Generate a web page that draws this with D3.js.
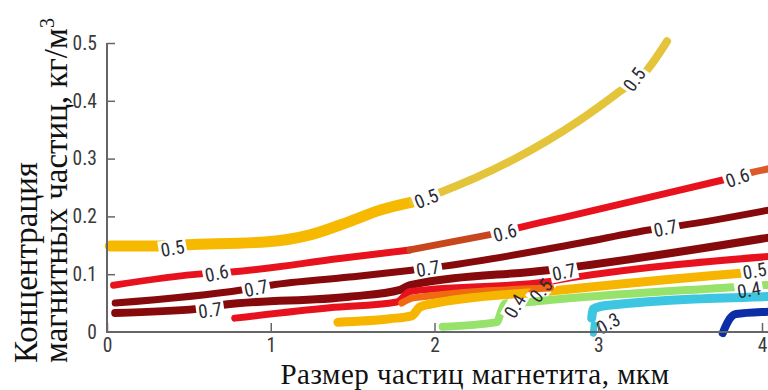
<!DOCTYPE html>
<html>
<head>
<meta charset="utf-8">
<script src="https://cdn.jsdelivr.net/npm/d3@7"></script>
<style>
  body { margin: 0; background: #fff; }
  svg { display: block; }
</style>
</head>
<body>
<svg id="chart" width="768" height="390"></svg>
<script>
// ---- axis values ----
const xTicks = [0, 1, 2, 3, 4];
const xTickLabels = ["0", "1", "2", "3", "4"];
const yTicks = [0, 0.1, 0.2, 0.3, 0.4, 0.5];
const yTickLabels = ["0", "0.1", "0.2", "0.3", "0.4", "0.5"];

// ---- contour lines: [particle size µm, concentration kg/m³] ----
const c05upperA = [[0.02,0.149],[0.32,0.149],[0.49,0.151],[0.98,0.156],[1.24,0.168],[1.48,0.191],[1.67,0.211],[1.87,0.225]];
const c05upperB = [[1.87,0.225],[2.03,0.241],[2.48,0.298],[2.89,0.367],[3.13,0.416],[3.30,0.454],[3.42,0.503]];
const c06a = [[0.04,0.081],[0.59,0.101],[0.76,0.104],[1.42,0.127],[1.85,0.142]];
const c06b = [[1.85,0.142],[2.33,0.168],[2.42,0.173]];
const c06c = [[2.42,0.173],[2.51,0.180],[2.83,0.201],[3.76,0.263],[3.85,0.269]];
const c06d = [[3.85,0.269],[3.94,0.276],[4.10,0.286]];
const c07upper = [[0.05,0.050],[0.83,0.073],[1.00,0.081],[1.48,0.095],[1.86,0.107],[2.06,0.114],[2.89,0.154],[3.32,0.177],[3.50,0.184],[4.10,0.214]];
const c07lower = [[0.05,0.033],[0.55,0.040],[0.71,0.047],[1.48,0.061],[1.79,0.073],[1.85,0.081],[2.69,0.107],[2.89,0.114],[4.10,0.166]];
const c06lower = [[0.78,0.024],[1.36,0.042],[1.77,0.052],[1.85,0.070],[2.69,0.087],[2.84,0.094],[4.10,0.132]];
const c055 = [[1.80,0.050],[1.87,0.059],[2.71,0.076]];
const c05lower = [[1.41,0.017],[1.73,0.023],[1.86,0.028],[1.91,0.043],[1.97,0.048],[2.71,0.071],[3.97,0.104],[4.12,0.107]];
const c04 = [[2.05,0.009],[2.38,0.017],[2.41,0.038],[2.43,0.049],[2.58,0.052],[2.77,0.057],[3.85,0.078],[4.12,0.083]];
const c03a = [[2.97,-0.002],[2.975,0.012]];
const c03b = [[2.96,0.024],[2.97,0.040],[3.05,0.046],[4.12,0.062]];
const c02 = [[3.76,-0.002],[3.79,0.017],[3.84,0.031],[4.04,0.035],[4.12,0.036]];

const contours = [
  { id: "A1", group: "A", level: 0.5, pts: c05upperA },
  { id: "A2", group: "A", level: 0.5, pts: c05upperB },
  { id: "B1", group: "B", level: 0.6, pts: c06a },
  { id: "B2", group: "B", level: 0.6, pts: c06b },
  { id: "B3", group: "B", level: 0.6, pts: c06c },
  { id: "B4", group: "B", level: 0.6, pts: c06d },
  { id: "C",  group: "C", level: 0.7, pts: c07upper },
  { id: "D",  group: "D", level: 0.7, pts: c07lower },
  { id: "E",  group: "E", level: 0.6, pts: c06lower },
  { id: "F",  group: "F", level: 0.55, pts: c055 },
  { id: "G",  group: "G", level: 0.5, pts: c05lower },
  { id: "H",  group: "H", level: 0.4, pts: c04 },
  { id: "I1", group: "I", level: 0.3, pts: c03a },
  { id: "I2", group: "I", level: 0.3, pts: c03b },
  { id: "J",  group: "J", level: 0.2, pts: c02 }
];

// ---- line styling ----
const lineStyle = {
  A1: { color: "#f6b900", width: 11 },
  A2: { color: "#e4c43a", width: 8 },
  B1: { color: "#e8121e", width: 7 },
  B2: { color: "#c8461e", width: 7 },
  B3: { color: "#e8121e", width: 7 },
  B4: { color: "#dc5a2a", width: 7 },
  C:  { color: "#860a0c", width: 7 },
  D:  { color: "#860a0c", width: 8 },
  E:  { color: "#e8121e", width: 7 },
  F:  { color: "#f06a12", width: 7 },
  G:  { color: "#f6b500", width: 9 },
  H:  { color: "#96e26a", width: 8 },
  I1: { color: "#3cc6e2", width: 7 },
  I2: { color: "#3cc6e2", width: 9 },
  J:  { color: "#0b2ea8", width: 8 }
};

// ---- contour labels (level text, anchor in data units, rotation, lines broken) ----
const contourLabels = [
  { text: "0.5", x: 0.40, y: 0.145, rot: -10, cuts: ["A"] },
  { text: "0.5", x: 1.95, y: 0.231, rot: -22, cuts: ["A"] },
  { text: "0.5", x: 3.22, y: 0.437, rot: -55, cuts: ["A"] },
  { text: "0.6", x: 0.67, y: 0.102, rot: -12, cuts: ["B"] },
  { text: "0.6", x: 2.43, y: 0.172, rot: -15, cuts: ["B"] },
  { text: "0.6", x: 3.85, y: 0.267, rot: -20, cuts: ["B"] },
  { text: "0.7", x: 0.91, y: 0.076, rot: -12, cuts: ["C"] },
  { text: "0.7", x: 1.96, y: 0.110, rot: -10, cuts: ["C"] },
  { text: "0.7", x: 3.41, y: 0.180, rot: -12, cuts: ["C"] },
  { text: "0.7", x: 0.63, y: 0.038, rot: -8,  cuts: ["D"] },
  { text: "0.7", x: 2.79, y: 0.104, rot: -12, cuts: ["D", "E"] },
  { text: "0.4", x: 2.49, y: 0.045, rot: -60, cuts: ["H"] },
  { text: "0.5", x: 2.65, y: 0.072, rot: -50, cuts: ["G"] },
  { text: "0.3", x: 3.06, y: 0.015, rot: -30, cuts: [] },
  { text: "0.4", x: 3.92, y: 0.073, rot: -10, cuts: ["H"] },
  { text: "0.5", x: 3.955, y: 0.106, rot: -10, cuts: ["G"] }
];

const W = 768, H = 390;
const svg = d3.select("#chart");
const x = d3.scaleLinear().domain([0, 4]).range([107, 762]);
const y = d3.scaleLinear().domain([0, 0.5]).range([332, 43]);

const tickFont = "'Liberation Sans Narrow','Roboto Condensed','Arial Narrow',sans-serif";
const serif = "'Liberation Serif','Times New Roman',serif";
const axisColor = "#666";

// masks that open gaps in the lines under their labels
const defs = svg.append("defs");
const groups = Array.from(new Set(contours.map(c => c.group)));
groups.forEach(g => {
  const m = defs.append("mask").attr("id", "gap-" + g)
    .attr("maskUnits", "userSpaceOnUse")
    .attr("x", 0).attr("y", 0).attr("width", W).attr("height", H);
  m.append("rect").attr("width", W).attr("height", H).attr("fill", "#fff");
  contourLabels.filter(l => l.cuts.includes(g)).forEach(l => {
    m.append("rect")
      .attr("x", -14).attr("y", -9).attr("width", 28).attr("height", 18)
      .attr("fill", "#000")
      .attr("transform", `translate(${x(l.x)},${y(l.y)}) rotate(${l.rot})`);
  });
});

// contour lines
const line = d3.line().curve(d3.curveMonotoneX).x(d => x(d[0])).y(d => y(d[1]));
const lines = svg.append("g");
contours.forEach(c => {
  lines.append("path")
    .attr("d", line(c.pts))
    .attr("fill", "none")
    .attr("stroke", lineStyle[c.id].color)
    .attr("stroke-width", lineStyle[c.id].width)
    .attr("stroke-linejoin", "round")
    .attr("stroke-linecap", "round")
    .attr("mask", `url(#gap-${c.group})`);
});

// contour labels
svg.append("g").selectAll("text").data(contourLabels).join("text")
  .attr("transform", d => `translate(${x(d.x)},${y(d.y)}) rotate(${d.rot})`)
  .attr("text-anchor", "middle")
  .attr("dy", "0.36em")
  .attr("font-family", tickFont)
  .attr("font-size", 19)
  .attr("fill", "#2b2b35")
  .text(d => d.text);

// axes
const xAxis = d3.axisBottom(x).tickValues(xTicks)
  .tickFormat((d, i) => xTickLabels[i]).tickSizeInner(-9).tickSizeOuter(0).tickPadding(6);
const yAxis = d3.axisLeft(y).tickValues(yTicks)
  .tickFormat((d, i) => yTickLabels[i]).tickSizeInner(-8).tickSizeOuter(0).tickPadding(10);

const gx = svg.append("g").attr("transform", `translate(0,${y(0)})`).call(xAxis);
const gy = svg.append("g").attr("transform", `translate(${x(0)},0)`).call(yAxis);
[gx, gy].forEach(g => {
  g.select(".domain").remove();
  g.selectAll(".tick line").attr("stroke", axisColor).attr("stroke-width", 1.5);
  g.selectAll(".tick text").attr("font-family", tickFont).attr("font-size", 19.5).attr("fill", "#3a3a3a");
});
gy.selectAll(".tick").filter(d => d === 0).select("line").remove();

svg.append("line").attr("x1", x(0)).attr("x2", W).attr("y1", y(0)).attr("y2", y(0))
  .attr("stroke", axisColor).attr("stroke-width", 2);
svg.append("line").attr("x1", x(0)).attr("x2", x(0)).attr("y1", y(0.5)).attr("y2", y(0) + 1)
  .attr("stroke", axisColor).attr("stroke-width", 2);

// axis titles
svg.append("text")
  .attr("x", 475).attr("y", 383.5)
  .attr("text-anchor", "middle")
  .attr("font-family", serif).attr("font-size", 29).attr("fill", "#111")
  .attr("letter-spacing", 0.5)
  .text("Размер частиц магнетита, мкм");

const yTitle = svg.append("g").attr("font-family", serif).attr("font-size", 33).attr("fill", "#111");
yTitle.append("text")
  .attr("transform", "translate(37,363) rotate(-90)")
  .text("Концентрация");
const t2 = yTitle.append("text")
  .attr("transform", "translate(67,363) rotate(-90)");
t2.append("tspan").text("магнитных частиц, кг/м");
t2.append("tspan").attr("font-size", 20).attr("dy", -13).text("3");
</script>
</body>
</html>
